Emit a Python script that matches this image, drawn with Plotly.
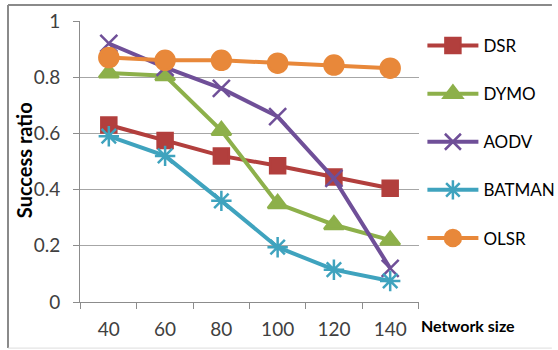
import plotly.graph_objects as go

# Network sizes (x categories)
network_sizes = ["40", "60", "80", "100", "120", "140"]

# Success ratio per routing protocol
dsr = [0.63, 0.575, 0.52, 0.485, 0.445, 0.405]
dymo = [0.815, 0.805, 0.61, 0.35, 0.275, 0.22]
aodv = [0.92, 0.835, 0.76, 0.66, 0.44, 0.12]
batman = [0.59, 0.52, 0.36, 0.195, 0.115, 0.075]
olsr = [0.87, 0.86, 0.86, 0.85, 0.843, 0.832]

y_ticks = [0, 0.2, 0.4, 0.6, 0.8, 1]
y_tick_text = ["0", "0.2", "0.4", "0.6", "0.8", "1"]

series = [
    ("DSR", dsr, "#B23F3D", "square", 15),
    ("DYMO", dymo, "#8DB04A", "triangle-up", 17),
    ("AODV", aodv, "#6F4F98", "x-thin", 17),
    ("BATMAN", batman, "#3FA3BE", "asterisk", 17),
    ("OLSR", olsr, "#E8883A", "circle", 19),
]

FONT = "Lato, 'Open Sans', sans-serif"

fig = go.Figure()
for i, (name, vals, color, symbol, size) in enumerate(series):
    fig.add_trace(go.Scatter(
        x=network_sizes, y=vals, name=name, mode="lines+markers",
        legendgroup=f"g{i}",
        line=dict(color=color, width=4),
        marker=dict(symbol=symbol, size=size, color=color,
                    line=dict(color=color, width=2.5)),
    ))

# Chart frame lines
frame = "#8A8A8A"
fig.add_shape(type="line", xref="paper", yref="paper",
              x0=-0.2124, x1=1.392, y0=1.057, y1=1.057,
              line=dict(color=frame, width=2))
fig.add_shape(type="line", xref="paper", yref="paper",
              x0=-0.2124, x1=-0.2124, y0=1.057, y1=-0.164,
              line=dict(color=frame, width=2))
fig.add_shape(type="line", xref="paper", yref="paper",
              x0=-0.2124, x1=1.392, y0=-0.164, y1=-0.164,
              line=dict(color="#DDDDDD", width=1))

# Axis titles
fig.add_annotation(text="<b>Network size</b>", xref="paper", yref="paper",
                   x=1.0, y=-0.082, xanchor="left", yanchor="middle",
                   showarrow=False, font=dict(family=FONT, size=16, color="#000000"))
fig.add_annotation(text="<b>Success ratio</b>", xref="paper", yref="paper",
                   x=-0.165, y=0.505, xanchor="center", yanchor="middle",
                   textangle=-90, showarrow=False,
                   font=dict(family=FONT, size=20, color="#000000"))

fig.update_layout(
    width=558, height=350,
    margin=dict(l=80, r=139, t=21, b=48, autoexpand=False),
    paper_bgcolor="white", plot_bgcolor="white",
    font=dict(family=FONT, color="#404040"),
    showlegend=True,
    legend=dict(xref="container", yref="container",
                x=0.757, y=0.92, xanchor="left", yanchor="top",
                font=dict(family=FONT, size=17, color="#000000"),
                tracegroupgap=23, itemwidth=51, maxheight=1,
                bgcolor="rgba(0,0,0,0)"),
    xaxis=dict(
        type="category", tickson="boundaries",
        showgrid=False, showline=True, linecolor="#8C8C8C", linewidth=1,
        ticks="outside", ticklen=6, tickcolor="#8C8C8C",
        tickfont=dict(family=FONT, size=19, color="#404040"),
        ticklabelstandoff=10, zeroline=False,
    ),
    yaxis=dict(
        range=[0, 1], tickvals=y_ticks, ticktext=y_tick_text,
        showgrid=True, gridcolor="#A6A6A6", gridwidth=1,
        showline=True, linecolor="#8C8C8C", linewidth=1,
        ticks="outside", ticklen=6, tickcolor="#8C8C8C",
        tickfont=dict(family=FONT, size=19, color="#404040"),
        ticklabelstandoff=9, zeroline=False,
    ),
)

fig.write_html("out.html")
